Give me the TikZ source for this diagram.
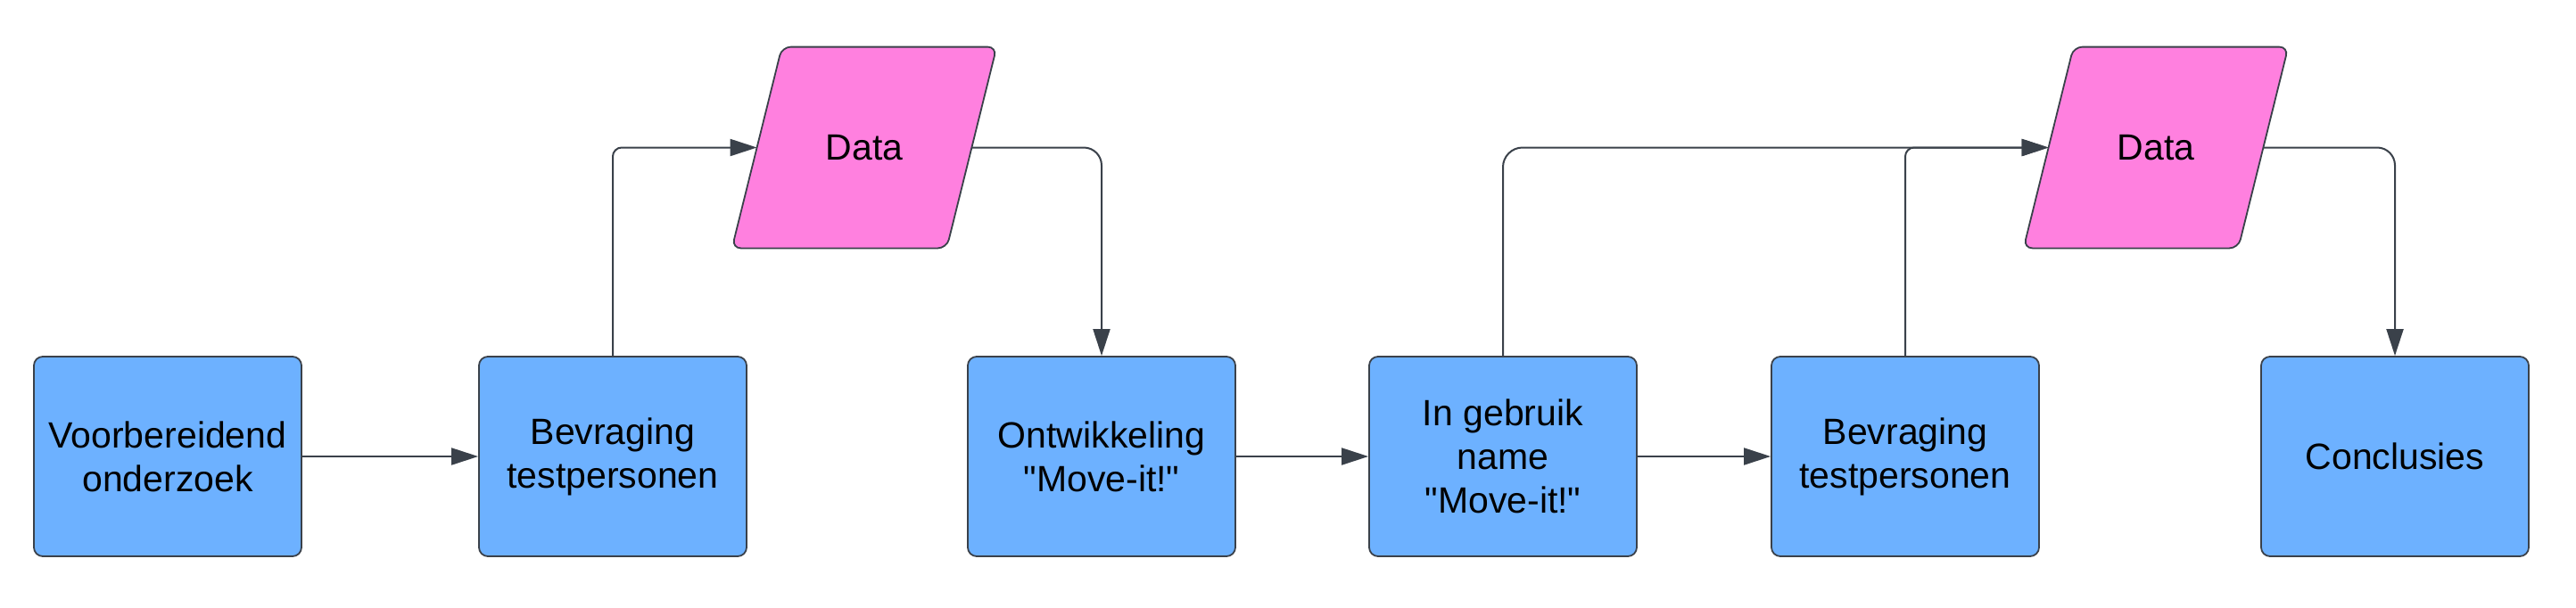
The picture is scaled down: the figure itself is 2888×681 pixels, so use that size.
\documentclass[tikz,border=0pt]{standalone}
\usepackage{fontspec}
\setmainfont{Liberation Sans}
\newfontfamily\lsans{Liberation Sans}
\usepackage{tikz}
\usetikzlibrary{arrows.meta, backgrounds}
\definecolor{boxblue}{HTML}{6DB1FF}
\definecolor{datapink}{HTML}{FF80DF}
\definecolor{lijn}{HTML}{3A414A}

\begin{document}
\begin{tikzpicture}[x=0.5pt, y=-0.5pt,
  stap/.style={draw=lijn, line width=0.9pt, fill=boxblue, rounded corners=5pt,
    minimum width=150pt, minimum height=112pt, align=center,
    font=\lsans\fontsize{20.5}{24.5}\selectfont},
  datavak/.style={minimum width=120pt, minimum height=112.5pt,
    font=\lsans\fontsize{20.5}{24.5}\selectfont},
  datavlak/.style={draw=lijn, line width=0.9pt, fill=datapink, rounded corners=5pt},
  pijl/.style={draw=lijn, line width=1pt, -{Triangle[length=15pt, width=9.5pt]}}]
\useasboundingbox (0,0) rectangle (2888,681);

\node[stap] (voorber) at (188,512) {Voorbereidend\\onderzoek};
\node[stap] (bevr_1) at (687,512) {Bevraging\\testpersonen};
\node[stap] (ontw) at (1235,512) {Ontwikkeling\\"Move-it!"};
\node[stap] (gebruik) at (1685,512) {In gebruik\\name\\"Move-it!"};
\node[stap] (bevr_2) at (2136,512) {Bevraging\\testpersonen};
\node[stap] (concl) at (2685,512) {Conclusies};

\node[datavak] (data_1) at (969,165.5) {Data};
\node[datavak] (data_2) at (2417,165.5) {Data};

% parallellogrammen achter de tekst
\begin{scope}[on background layer]
\foreach \d in {data_1, data_2}
  \draw[datavlak] ([xshift=-14pt]\d.south west) -- ([xshift=14pt]\d.north west)
    -- ([xshift=14pt]\d.north east) -- ([xshift=-14pt]\d.south east) -- cycle;
\end{scope}

% stappen na elkaar
\draw[pijl] (voorber.east)--(bevr_1.west);
\draw[pijl] (ontw.east)--(gebruik.west);
\draw[pijl] (gebruik.east)--(bevr_2.west);

% naar en van de data
\draw[pijl, rounded corners=5pt] (bevr_1.north) |- (data_1.west);
\draw[pijl, rounded corners=10pt] (data_1.east) -| (ontw.north);
\draw[pijl, rounded corners=11pt] (gebruik.north) |- (data_2.west);
\draw[pijl, rounded corners=5pt] (bevr_2.north) |- (data_2.west);
\draw[pijl, rounded corners=10pt] (data_2.east) -| (concl.north);
\end{tikzpicture}
\end{document}
